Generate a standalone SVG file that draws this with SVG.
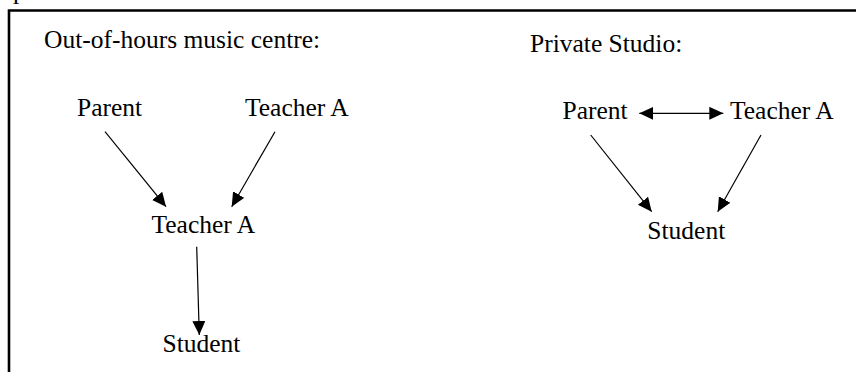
<svg xmlns="http://www.w3.org/2000/svg" width="856" height="372" viewBox="0 0 856 372">
<style>
  text { font-family: "Liberation Serif", "Times New Roman", serif; font-size: 25.5px; fill: #000; }
  .c { stroke: #000; stroke-width: 1.2; fill: none; }
</style>
<defs>
  <marker id="ah" markerUnits="userSpaceOnUse" markerWidth="16" markerHeight="14" refX="14" refY="6.5" orient="auto-start-reverse">
    <path d="M0,0 L14,6.5 L0,13 z" fill="#000"/>
  </marker>
</defs>
<rect width="856" height="372" fill="#fff"/>
<text x="13" y="-1">p</text>
<path d="M9,372 V10.5 H856" fill="none" stroke="#000" stroke-width="2.6"/>
<text id="title-left" x="44" y="47.7">Out-of-hours music centre:</text>
<text id="title-right" x="530" y="51.7">Private Studio:</text>
<g id="l-parent"><text x="77" y="116">Parent</text></g>
<g id="l-teacher-top"><text x="245" y="116">Teacher A</text></g>
<g id="l-teacher-mid"><text x="151.5" y="233.3">Teacher A</text></g>
<g id="l-student"><text x="162.5" y="352.3">Student</text></g>
<g id="r-parent"><text x="562.5" y="119">Parent</text></g>
<g id="r-teacher"><text x="730" y="119">Teacher A</text></g>
<g id="r-student"><text x="647.3" y="239.3">Student</text></g>
<g id="connectors">
  <line class="c" x1="105" y1="131.7" x2="166" y2="206.7" marker-end="url(#ah)"/>
  <line class="c" x1="275" y1="131.7" x2="231.7" y2="206.7" marker-end="url(#ah)"/>
  <line class="c" x1="196.7" y1="246.7" x2="199.3" y2="335" marker-end="url(#ah)"/>
  <line class="c" x1="639.3" y1="113.3" x2="723.3" y2="113.3" marker-start="url(#ah)" marker-end="url(#ah)"/>
  <line class="c" x1="590.7" y1="135" x2="651.7" y2="211.7" marker-end="url(#ah)"/>
  <line class="c" x1="761" y1="135" x2="717.7" y2="211.7" marker-end="url(#ah)"/>
</g>
</svg>
